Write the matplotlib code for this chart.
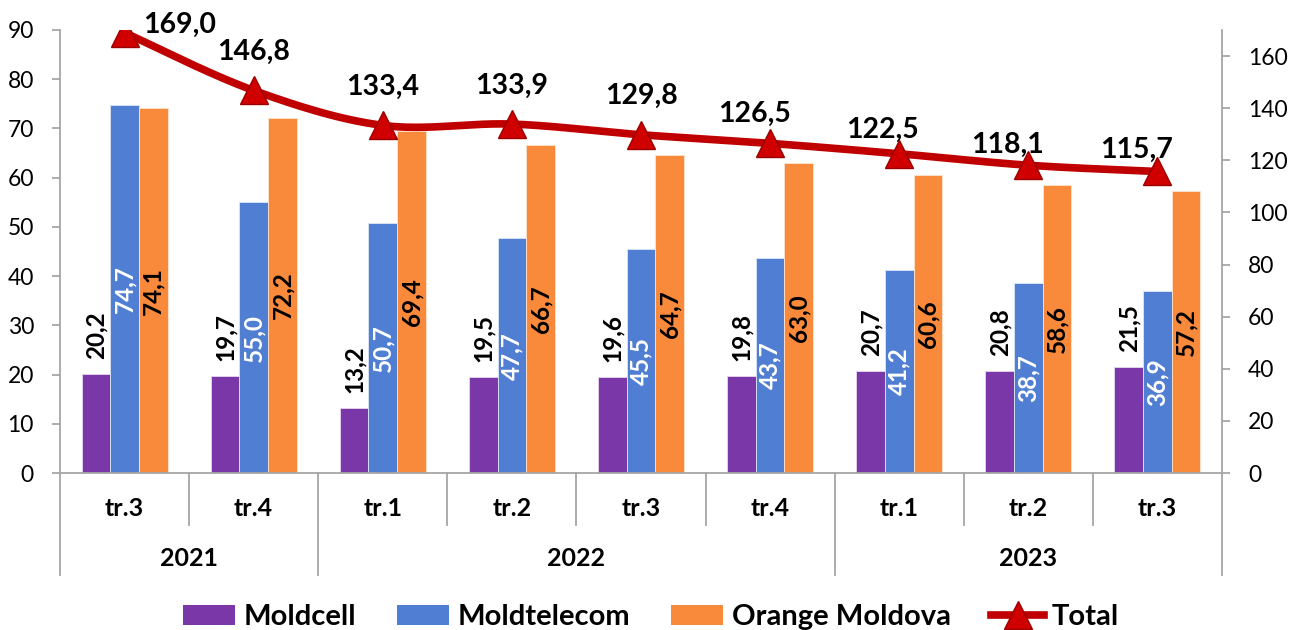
import numpy as np
import matplotlib
matplotlib.use('Agg')
import matplotlib.pyplot as plt
from matplotlib.lines import Line2D
from matplotlib.patches import Patch

quarters = ['tr.3', 'tr.4', 'tr.1', 'tr.2', 'tr.3', 'tr.4', 'tr.1', 'tr.2', 'tr.3']
years = ['2021', '2022', '2023']
year_spans = [2, 4, 3]
moldcell = [20.2, 19.7, 13.2, 19.5, 19.6, 19.8, 20.7, 20.8, 21.5]
moldtelecom = [74.7, 55.0, 50.7, 47.7, 45.5, 43.7, 41.2, 38.7, 36.9]
orange = [74.1, 72.2, 69.4, 66.7, 64.7, 63.0, 60.6, 58.6, 57.2]
total = [169.0, 146.8, 133.4, 133.9, 129.8, 126.5, 122.5, 118.1, 115.7]
series_names = ['Moldcell', 'Moldtelecom', 'Orange Moldova', 'Total']

C_PURPLE = '#7A37A8'
C_BLUE = '#4F7ED2'
C_ORANGE = '#F98A3C'
C_RED = '#C00000'
GRAY = '#A6A6A6'

# label offsets (pixels) of the Total labels relative to the marker, as placed in the source chart
total_label_offsets = [(19, 0), (0, 31), (0, 31), (0, 30), (0, 31), (-16, 21), (-17, 16), (-21, 12), (-21, 14)]


def fmt(v):
    return f'{v:.1f}'.replace('.', ',')


def smooth(xs, ys, n=40):
    P = np.column_stack([xs, ys]).astype(float)
    out = []
    for i in range(len(P) - 1):
        p0 = P[i - 1] if i > 0 else P[i]
        p3 = P[i + 2] if i + 2 < len(P) else P[i + 1]
        p1, p2 = P[i], P[i + 1]
        c1 = p1 + (p2 - p0) / 6
        c2 = p2 - (p3 - p1) / 6
        t = np.linspace(0, 1, n)[:, None]
        seg = (1 - t) ** 3 * p1 + 3 * (1 - t) ** 2 * t * c1 + 3 * (1 - t) * t ** 2 * c2 + t ** 3 * p2
        out.append(seg if i == 0 else seg[1:])
    S = np.vstack(out)
    return S[:, 0], S[:, 1]


plt.rcParams['font.family'] = ['Lato', 'DejaVu Sans']
fig = plt.figure(figsize=(13.02, 6.30), dpi=100)
ax = fig.add_axes([60 / 1302, 1 - 473 / 630, (1222 - 60) / 1302, (473 - 30) / 630])
PX = 72 / 100  # points per pixel

x = np.arange(len(quarters))
w = 0.222
ax.bar(x - w, moldcell, w, color=C_PURPLE, edgecolor='#E6D8EE', linewidth=0.6, zorder=2)
ax.bar(x, moldtelecom, w, color=C_BLUE, edgecolor='#DCE6F5', linewidth=0.6, zorder=2)
ax.bar(x + w, orange, w, color=C_ORANGE, edgecolor='#FDE3CF', linewidth=0.6, zorder=2)

BL = 17.5
for i in range(len(x)):
    ax.annotate(fmt(moldcell[i]), (x[i] - w, moldcell[i]), xytext=(0, 15 * PX), textcoords='offset points',
                rotation=90, ha='center', va='bottom', fontsize=BL, fontweight='bold', color='black', zorder=4)
    ax.text(x[i], moldtelecom[i] / 2, fmt(moldtelecom[i]), rotation=90, ha='center', va='center',
            fontsize=BL, fontweight='bold', color='white', zorder=4)
    ax.text(x[i] + w, orange[i] / 2, fmt(orange[i]), rotation=90, ha='center', va='center',
            fontsize=BL, fontweight='bold', color='black', zorder=4)

ax.set_xlim(-0.5, len(x) - 0.5)
ax.set_ylim(0, 90)
ax.set_yticks(range(0, 91, 10))
ax.set_xticks([])
for s in ['top', 'right']:
    ax.spines[s].set_visible(False)
for s in ['left', 'bottom']:
    ax.spines[s].set_color(GRAY)
    ax.spines[s].set_linewidth(1.3)
ax.tick_params(axis='y', direction='out', length=8 * PX, width=1.3, color=GRAY, labelsize=16.5, pad=13)

# category separators
tr = ax.get_xaxis_transform()
bounds = np.arange(-0.5, len(x), 1.0)
group_bounds = [-0.5]
acc = -0.5
for sp in year_spans:
    acc += sp
    group_bounds.append(acc)
for b in bounds:
    is_group = any(abs(b - g) < 1e-6 for g in group_bounds)
    y_end = -(575 - 473) / 443 if is_group else -(525 - 473) / 443
    ax.plot([b, b], [0, y_end], transform=tr, color=GRAY, lw=1.3, clip_on=False)
for i, q in enumerate(quarters):
    ax.text(x[i], -(508 - 473) / 443, q, transform=tr, ha='center', va='center',
            fontsize=18, fontweight='bold')
start = 0
for yr, sp in zip(years, year_spans):
    ax.text(start + (sp - 1) / 2, -(559 - 473) / 443, yr, transform=tr, ha='center', va='center',
            fontsize=18, fontweight='bold')
    start += sp

ax2 = ax.twinx()
ax2.set_ylim(0, 170)
ax2.set_yticks(range(0, 161, 20))
for s in ['top', 'left', 'bottom']:
    ax2.spines[s].set_visible(False)
ax2.spines['right'].set_color(GRAY)
ax2.spines['right'].set_linewidth(1.3)
ax2.tick_params(axis='y', direction='out', length=8 * PX, width=1.3, color=GRAY, labelsize=16.5, pad=13)

sx, sy = smooth(x, total)
ax2.plot(sx, sy, color=C_RED, lw=5.5, solid_capstyle='round', zorder=3)
ax2.plot(x, total, ls='none', marker='^', markersize=20, markerfacecolor='#D00000',
         markeredgecolor='#9A0000', markeredgewidth=1, zorder=4)
for i, v in enumerate(total):
    dx, dy = total_label_offsets[i]
    if i == 0:
        ax2.annotate(fmt(v), (x[i], v), xytext=(dx * PX, dy * PX), textcoords='offset points',
                     ha='left', va='baseline', fontsize=20.5, fontweight='bold')
    else:
        ax2.annotate(fmt(v), (x[i], v), xytext=(dx * PX, dy * PX), textcoords='offset points',
                     ha='center', va='baseline', fontsize=20.5, fontweight='bold')

handles = [Patch(facecolor=C_PURPLE), Patch(facecolor=C_BLUE), Patch(facecolor=C_ORANGE),
           Line2D([0], [0], color=C_RED, lw=5.5, marker='^', markersize=20,
                  markerfacecolor='#D00000', markeredgecolor='#9A0000')]
fig.legend(handles, series_names, loc='center', bbox_to_anchor=(0.5, 1 - 617 / 630), ncol=4,
           frameon=False, prop={'size': 21, 'weight': 'bold'}, handlelength=1.8, handleheight=0.66,
           handletextpad=0.28, columnspacing=1.4, borderpad=0)

fig.savefig('out.png', dpi=100)
